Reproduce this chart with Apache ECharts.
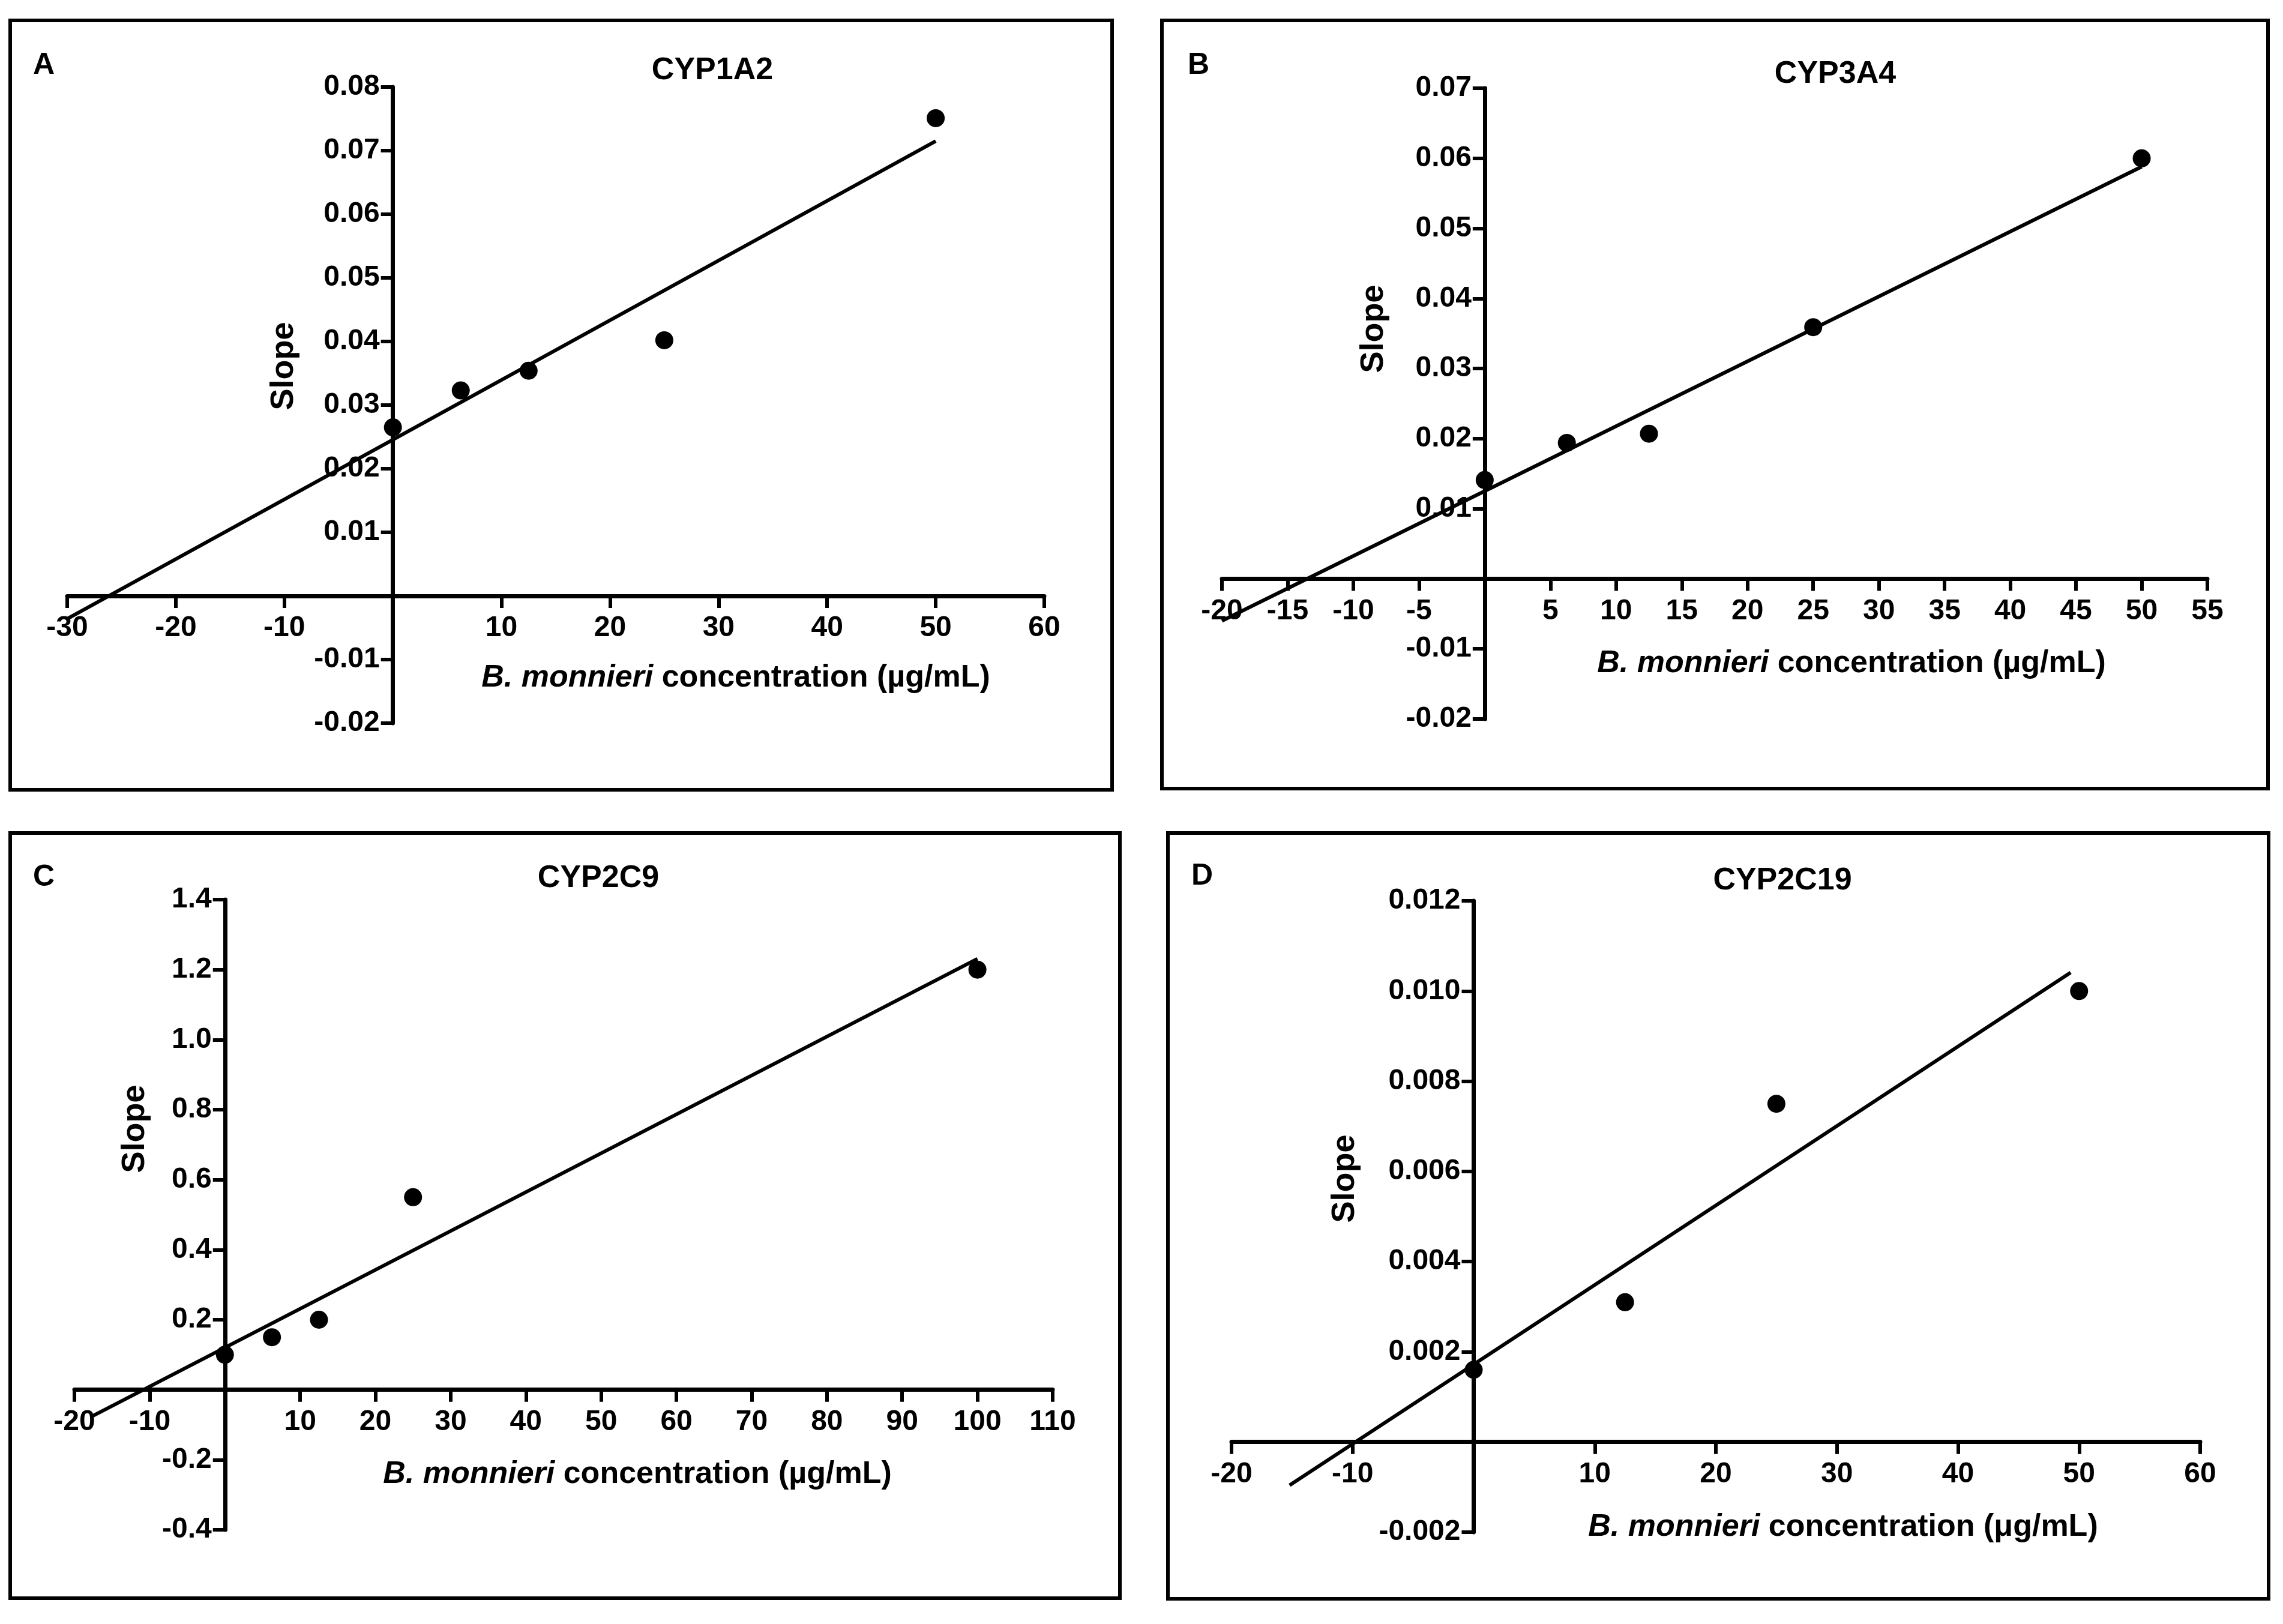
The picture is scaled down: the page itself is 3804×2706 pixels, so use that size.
<!DOCTYPE html>
<html>
<head>
<meta charset="utf-8">
<script src="https://cdn.jsdelivr.net/npm/echarts@6/dist/echarts.min.js"></script>
<style>html,body{margin:0;padding:0;background:#fff}#c{width:3804px;height:2706px}</style>
</head>
<body>
<div id="c"></div>
<script>
// ---- data ----
const panelLetters = ['A', 'B', 'C', 'D'];
const panelTitles = ['CYP1A2', 'CYP3A4', 'CYP2C9', 'CYP2C19'];

const concA = [0, 6.25, 12.5, 25, 50];
const slopeA = [0.0265, 0.0323, 0.0354, 0.0402, 0.0751];
const fitXA = [-30, 50];
const fitYA = [-0.0036, 0.0715];

const concB = [0, 6.25, 12.5, 25, 50];
const slopeB = [0.0141, 0.0194, 0.0207, 0.0359, 0.0600];
const fitXB = [-20, 50];
const fitYB = [-0.0060, 0.0588];

const concC = [0, 6.25, 12.5, 25, 100];
const slopeC = [0.10, 0.15, 0.20, 0.55, 1.20];
const fitXC = [-17.5, 100];
const fitYC = [-0.074, 1.231];

const concD = [0, 12.5, 25, 50];
const slopeD = [0.0016, 0.0031, 0.0075, 0.0100];
const fitXD = [-15.2, 49.3];
const fitYD = [-0.00096, 0.01041];

// axis ranges / ticks
const xMin = [-30, -20, -20, -20];
const xMax = [60, 55, 110, 60];
const xStep = [10, 5, 10, 10];
const yMin = [-0.02, -0.02, -0.4, -0.002];
const yMax = [0.08, 0.07, 1.4, 0.012];
const yStep = [0.01, 0.01, 0.2, 0.002];
const yDecimals = [2, 2, 1, 3];
const xLabelText = ['(µg/mL)', '(µg/mL)', '(µg/mL)', '(μg/mL)'];

// ---- layout ----
const grids = [
  {left: 112, top: 145, width: 1628, height: 1060},
  {left: 2036, top: 147, width: 1642, height: 1051},
  {left: 124, top: 1499, width: 1630, height: 1050},
  {left: 2052, top: 1501, width: 1614, height: 1052}
];
const frames = [
  [17, 34, 1836, 1282],
  [1936, 34, 1843, 1280],
  [17, 1388, 1849, 1275],
  [1946, 1388, 1834, 1276]
];
const letterPos = [[55, 109], [1979, 109], [55, 1462], [1985, 1460]];
const titlePos = [[1187, 118], [3058, 124], [997, 1464], [2970, 1468]];
const slopePos = [[473, 610], [2289, 548], [225, 1881], [2241, 1964]];
const xNamePos = [[1226, 1130], [3085, 1106], [1062, 2457], [3071, 2545]];

const FONT = 'Liberation Sans, Arial, sans-serif';
const zip = (a, b) => a.map((v, i) => [v, b[i]]);
const scatterData = [zip(concA, slopeA), zip(concB, slopeB), zip(concC, slopeC), zip(concD, slopeD)];
const fitData = [zip(fitXA, fitYA), zip(fitXB, fitYB), zip(fitXC, fitYC), zip(fitXD, fitYD)];

const axisCommon = {
  type: 'value',
  axisLine: {show: true, onZero: false, lineStyle: {color: '#000', width: 7}},
  axisTick: {show: true, length: 20, lineStyle: {color: '#000', width: 6}},
  splitLine: {show: false},
  axisLabel: {color: '#000', fontFamily: FONT, fontWeight: 'bold', fontSize: 48, showMinLabel: true, showMaxLabel: true}
};

const xAxes = [], yAxes = [], series = [], titles = [], graphics = [];
for (let i = 0; i < 4; i++) {
  const g = grids[i];
  // place each axis line where the other axis is zero (axes cross at the origin)
  const yAxisShift = -g.width * (0 - xMin[i]) / (xMax[i] - xMin[i]);
  const xAxisShift = -g.height * (0 - yMin[i]) / (yMax[i] - yMin[i]);
  xAxes.push(Object.assign({}, axisCommon, {
    gridIndex: i, min: xMin[i], max: xMax[i], interval: xStep[i], offset: xAxisShift,
    axisLabel: Object.assign({}, axisCommon.axisLabel, {
      margin: 30,
      formatter: v => (Math.abs(v) < 1e-9 ? '' : String(Math.round(v)))
    })
  }));
  const dec = yDecimals[i];
  yAxes.push(Object.assign({}, axisCommon, {
    gridIndex: i, min: yMin[i], max: yMax[i], interval: yStep[i], offset: yAxisShift,
    axisLabel: Object.assign({}, axisCommon.axisLabel, {
      margin: 22,
      formatter: v => (Math.abs(v) < 1e-9 ? '' : v.toFixed(dec))
    })
  }));
  series.push({
    type: 'line', xAxisIndex: i, yAxisIndex: i, data: fitData[i],
    showSymbol: false, symbol: 'none', lineStyle: {color: '#000', width: 6}, z: 2, silent: true
  });
  series.push({
    type: 'scatter', xAxisIndex: i, yAxisIndex: i, data: scatterData[i],
    symbol: 'circle', symbolSize: 30, itemStyle: {color: '#000', opacity: 1}, z: 3
  });
  titles.push({
    text: panelTitles[i], left: titlePos[i][0], top: titlePos[i][1],
    textAlign: 'center', textVerticalAlign: 'middle', padding: 0,
    textStyle: {color: '#000', fontFamily: FONT, fontWeight: 'bold', fontSize: 52}
  });
  graphics.push({
    type: 'rect', shape: {x: frames[i][0], y: frames[i][1], width: frames[i][2], height: frames[i][3]},
    style: {fill: 'none', stroke: '#000', lineWidth: 6}, z: 10
  });
  graphics.push({
    type: 'text', x: letterPos[i][0], y: letterPos[i][1],
    style: {text: panelLetters[i], fill: '#000', font: 'bold 50px ' + FONT, align: 'left', verticalAlign: 'middle'}
  });
  graphics.push({
    type: 'text', x: slopePos[i][0], y: slopePos[i][1], rotation: Math.PI / 2,
    style: {text: 'Slope', fill: '#000', font: 'bold 54px ' + FONT, align: 'center', verticalAlign: 'middle'}
  });
  graphics.push({
    type: 'text', x: xNamePos[i][0], y: xNamePos[i][1],
    style: {
      text: '{it|B. monnieri} {n|concentration ' + xLabelText[i] + '}',
      fill: '#000', font: 'bold 52px ' + FONT, align: 'center', verticalAlign: 'middle',
      rich: {
        it: {fontFamily: FONT, fontWeight: 'bold', fontStyle: 'italic', fontSize: 52, fill: '#000'},
        n: {fontFamily: FONT, fontWeight: 'bold', fontSize: 52, fill: '#000'}
      }
    }
  });
}

const chart = echarts.init(document.getElementById('c'), null, {renderer: 'canvas'});
chart.setOption({
  animation: false,
  backgroundColor: '#fff',
  title: titles,
  grid: grids.map(g => Object.assign({containLabel: false, outerBoundsMode: 'none'}, g)),
  xAxis: xAxes,
  yAxis: yAxes,
  series: series,
  graphic: graphics
});
</script>
</body>
</html>
